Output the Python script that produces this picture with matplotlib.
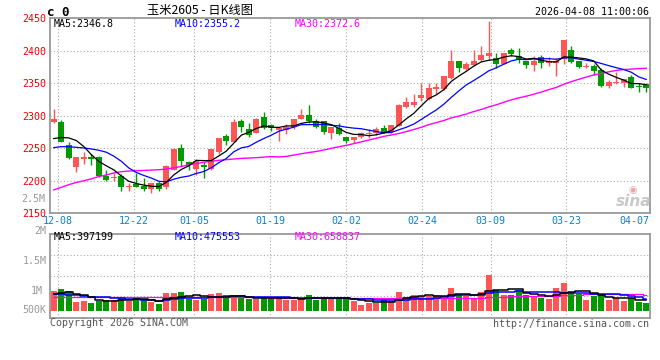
import numpy as np
import matplotlib
matplotlib.use("Agg")
import matplotlib.pyplot as plt

plt.rcParams['font.family'] = ['DejaVu Sans Mono', 'Noto Sans CJK SC']

# daily candles, 2025-12-05 .. 2026-04-08
opens = [2291, 2291, 2255, 2222, 2234, 2237, 2237, 2208, 2204, 2208,
         2190, 2195, 2192, 2188, 2196, 2190, 2217, 2250, 2229, 2218,
         2224, 2218.5, 2245, 2269, 2259, 2292, 2280, 2273, 2298, 2285.5,
         2277.5, 2278.5, 2283.5, 2294.5, 2300.5, 2292, 2292, 2273, 2282, 2268,
         2263, 2268, 2272, 2273, 2281, 2274.5, 2285, 2314, 2316.5, 2327.5,
         2326, 2342, 2342, 2357.5, 2384.5, 2372, 2378, 2386, 2392, 2389.5,
         2380, 2401.5, 2392, 2385, 2378, 2390, 2382, 2382, 2387, 2401.5,
         2384.5, 2375.5, 2377, 2370.5, 2346.5, 2350, 2350, 2359, 2346, 2348.5]
highs = [2311, 2294, 2260, 2237, 2244, 2241, 2238, 2217, 2212, 2211,
         2196, 2212, 2205, 2197, 2199, 2225, 2250, 2257, 2230, 2234,
         2229, 2249, 2266, 2272, 2295, 2295, 2289, 2296, 2306, 2287,
         2281.5, 2287, 2295.5, 2311, 2316, 2295.5, 2292.5, 2282, 2288.5, 2268,
         2268, 2275.5, 2279, 2282.5, 2286, 2286, 2317.5, 2329.5, 2333.5, 2350,
         2350, 2350, 2361.5, 2401.5, 2384.5, 2383.5, 2400.5, 2407.5, 2446, 2396,
         2397, 2405, 2405, 2385, 2392, 2393.5, 2390, 2388.5, 2416.5, 2408,
         2384.5, 2382, 2379, 2373, 2355, 2368, 2356, 2363, 2350, 2351]
lows = [2289, 2259, 2234, 2214, 2226, 2224, 2206, 2200, 2199, 2184,
        2184, 2190, 2184, 2182, 2185, 2188, 2216, 2223, 2217, 2209,
        2204, 2217, 2241, 2255, 2259, 2275, 2267, 2273, 2279.5, 2276,
        2262, 2272, 2280, 2294.5, 2288.5, 2282, 2272, 2265, 2271, 2257.5,
        2257.5, 2266.5, 2266.5, 2270.5, 2273, 2273, 2285, 2312.5, 2314, 2323,
        2324.5, 2333.5, 2339.5, 2356.5, 2368, 2370.5, 2377, 2385, 2386, 2373,
        2379.5, 2392.5, 2381, 2374, 2369.5, 2374, 2377, 2360.5, 2379.5, 2381,
        2373, 2374, 2363, 2345, 2343.5, 2349, 2345, 2343, 2337, 2337]
closes = [2295, 2260, 2235, 2237, 2237, 2233, 2208, 2200.5, 2206, 2190,
          2192, 2191, 2188, 2197, 2188, 2223, 2249, 2230, 2225, 2230,
          2221.5, 2249, 2265.5, 2262, 2291, 2283.5, 2271, 2295, 2281.5, 2281.5,
          2281.5, 2282.5, 2295.5, 2300.5, 2292, 2283, 2274.5, 2282, 2272, 2260.5,
          2268, 2273, 2273.5, 2279, 2274, 2286, 2316.5, 2321, 2321, 2332,
          2342.5, 2344, 2361.5, 2384.5, 2373, 2379, 2384.5, 2393.5, 2397, 2379.5,
          2397, 2395, 2387, 2378, 2385, 2382, 2384.5, 2385, 2416.5, 2383.5,
          2375.5, 2377, 2369.5, 2346.5, 2351.5, 2351, 2356, 2343.5, 2345, 2343.5]
volumes = [808e3, 890e3, 808e3, 357e3, 410e3, 316e3, 398e3, 439e3, 451e3, 521e3,
           410e3, 492e3, 492e3, 357e3, 275e3, 726e3, 726e3, 767e3, 480e3, 451e3,
           492e3, 685e3, 726e3, 521e3, 615e3, 521e3, 492e3, 492e3, 562e3, 480e3,
           562e3, 451e3, 451e3, 521e3, 644e3, 451e3, 562e3, 492e3, 480e3, 521e3,
           410e3, 246e3, 316e3, 316e3, 451e3, 410e3, 767e3, 562e3, 644e3, 586e3,
           586e3, 656e3, 521e3, 931e3, 644e3, 586e3, 521e3, 767e3, 1464e3, 849e3,
           644e3, 644e3, 849e3, 644e3, 615e3, 521e3, 480e3, 931e3, 1136e3, 767e3,
           685e3, 451e3, 586e3, 685e3, 451e3, 521e3, 410e3, 521e3, 357e3, 316e3]

# moving-average values before enough visible days exist
ma5_head = [2265, 2266.5, 2266, 2262]
ma10_head = [2251, 2252.5, 2252.5, 2251.5, 2250.5, 2249, 2247, 2244, 2238]
ma30_head = [2186, 2190, 2194, 2197.5, 2200, 2203, 2206.5, 2209, 2212, 2214,
             2215, 2215.5, 2216, 2216.5, 2217, 2218, 2220, 2222, 2224.5, 2226.5,
             2228.5, 2230, 2231.5, 2232.5, 2233.5, 2234.5, 2235, 2235.5, 2236.5]
vma5_head = [668e3, 726e3, 750e3, 697e3]
vma10_head = [668e3, 668e3, 656e3, 627e3, 586e3, 574e3, 562e3, 545e3, 533e3]
vma30_head = [560e3, 560e3, 560e3, 560e3, 560e3, 560e3, 560e3, 560e3, 560e3, 560e3,
              560e3, 560e3, 560e3, 560e3, 560e3, 558e3, 557e3, 556e3, 555e3, 554e3,
              553e3, 552e3, 551e3, 550e3, 549e3, 548e3, 546e3, 544e3, 542e3]

date_idx = [1, 11, 19, 29, 39, 49, 58, 68, 78]
date_labels = ['12-08', '12-22', '01-05', '01-19', '02-02', '02-24', '03-09', '03-23', '04-07']
price_ticks = [2150, 2200, 2250, 2300, 2350, 2400, 2450]


def moving(vals, n, head):
    out = list(head)
    for i in range(len(head), len(vals)):
        out.append(np.mean(vals[i - n + 1:i + 1]))
    return np.array(out)


W, H = 660, 360
RED = '#FF5555'
GREEN = '#009900'
GRID = '#AAAAAA'
BORDER = '#999999'
DATE_C = '#0A7FD0'


def fx(x):
    return x / W


def fy(y):
    return 1 - y / H


o = np.array(opens)
h = np.array(highs)
l = np.array(lows)
c = np.array(closes)
v = np.array(volumes)
x = np.arange(len(c))
cols = [RED if cc >= oo else GREEN for oo, cc in zip(o, c)]

fig = plt.figure(figsize=(6.6, 3.6), dpi=100)
ax1 = fig.add_axes([fx(50), fy(213.3), 600 / W, 195 / H])
ax2 = fig.add_axes([fx(50), fy(317.7), 600 / W, 83.4 / H])

px_per_vol = 41000.0
ax1.set_xlim(-0.5, 79.5)
ax1.set_ylim(2150, 2450)
ax2.set_xlim(-0.5, 79.5)
ax2.set_ylim(-7 * px_per_vol, 76.4 * px_per_vol)

dotted = (0, (1, 2))
for ax in (ax1, ax2):
    for i in date_idx[:-1]:
        ax.axvline(i * 80 / 79 - 0.5, color=GRID, ls=dotted, lw=0.8, zorder=0)
    for s in ax.spines.values():
        s.set_color(BORDER)
        s.set_linewidth(1.3)
    ax.set_xticks([])

for p in price_ticks[1:-1]:
    ax1.axhline(p, color=GRID, ls=dotted, lw=0.8, zorder=0)
for f in (0.748, 0.504, 0.260):
    ax2.plot([0, 1], [f, f], transform=ax2.transAxes, color=GRID, ls=dotted, lw=0.8, zorder=0)

# candles
ax1.vlines(x, l, h, colors=cols, lw=1, zorder=2)
body = np.maximum(np.abs(c - o), 1.3)
ax1.bar(x, body, bottom=np.minimum(o, c), width=0.76, color=cols, zorder=3)

ma5 = moving(c, 5, ma5_head)
ma10 = moving(c, 10, ma10_head)
ma30 = moving(c, 30, ma30_head)
ax1.plot(x, ma30, color='#FF00FF', lw=1.0, zorder=4)
ax1.plot(x, ma10, color='#0000FF', lw=0.9, zorder=4)
ax1.plot(x, ma5, color='black', lw=0.9, zorder=5)

ax1.set_yticks(price_ticks)
ax1.set_yticklabels([str(p) for p in price_ticks])
ax1.tick_params(axis='y', length=0, pad=3, labelcolor='#EE0000', labelsize=7.2)

# volume
ax2.bar(x, v, width=0.76, color=cols, zorder=2)
vma5 = moving(v, 5, vma5_head)
vma10 = moving(v, 10, vma10_head)
vma30 = moving(v, 30, vma30_head)
ax2.plot(x, vma30, color='#FF00FF', lw=0.9, drawstyle='steps-mid', zorder=3)
ax2.plot(x, vma10, color='#0000FF', lw=1.1, drawstyle='steps-mid', zorder=4)
ax2.plot(x, vma5, color='black', lw=1.1, drawstyle='steps-mid', zorder=5)
ax2.set_yticks([])

mono = dict(fontfamily='DejaVu Sans Mono', fontsize=7.2, va='center')

# header
fig.text(fx(47), fy(12.3), 'c 0', fontfamily='DejaVu Sans Mono', fontweight='bold',
         fontsize=9, va='center', ha='left')
fig.text(fx(200), fy(10.5), '玉米2605 - 日K线图', fontfamily=['Noto Sans CJK SC', 'DejaVu Sans'],
         fontsize=8.8, va='center', ha='center')
fig.text(fx(649), fy(12.3), '2026-04-08 11:00:06', ha='right', **mono)

# legends
fig.text(fx(54), fy(24), 'MA5:2346.8', color='black', **mono)
fig.text(fx(174.3), fy(24), 'MA10:2355.2', color='#0000FF', **mono)
fig.text(fx(295), fy(24), 'MA30:2372.6', color='#FF00FF', **mono)
fig.text(fx(54), fy(237.5), 'MA5:397199', color='black', **mono)
fig.text(fx(174.3), fy(237.5), 'MA10:475553', color='#0000FF', **mono)
fig.text(fx(294.3), fy(237.5), 'MA30:658837', color='#FF00FF', **mono)

# date labels
for i, lab in zip(date_idx, date_labels):
    gx = 50 + i * 600 / 79
    if lab == date_labels[-1]:
        fig.text(fx(649), fy(221), lab, color=DATE_C, ha='right', **mono)
    else:
        fig.text(fx(gx), fy(221), lab, color=DATE_C, ha='center', **mono)

# volume axis labels
for lab, yy, xr in [('2.5M', 199.3, 45.5), ('2M', 231, 46.7), ('1.5M', 261, 46.7),
                    ('1M', 291, 42.7), ('500K', 310, 46.7)]:
    fig.text(fx(xr), fy(yy), lab, color='#999999', ha='right', **mono)

# footer
fig.text(fx(50), fy(323.5), 'Copyright 2026 SINA.COM', color='#555555', ha='left', **mono)
fig.text(fx(649), fy(324), 'http://finance.sina.com.cn', color='#555555', ha='right', **mono)

# watermark
fig.text(fx(634), fy(201), 'sina', fontfamily='DejaVu Sans', fontstyle='italic',
         fontweight='bold', fontsize=11, color='#C8C8C8', ha='center', va='center')
fig.text(fx(633), fy(190), '◉', fontfamily='DejaVu Sans', fontsize=7,
         color='#E8A8A8', ha='center', va='center')

fig.savefig('out.png', dpi=100)
